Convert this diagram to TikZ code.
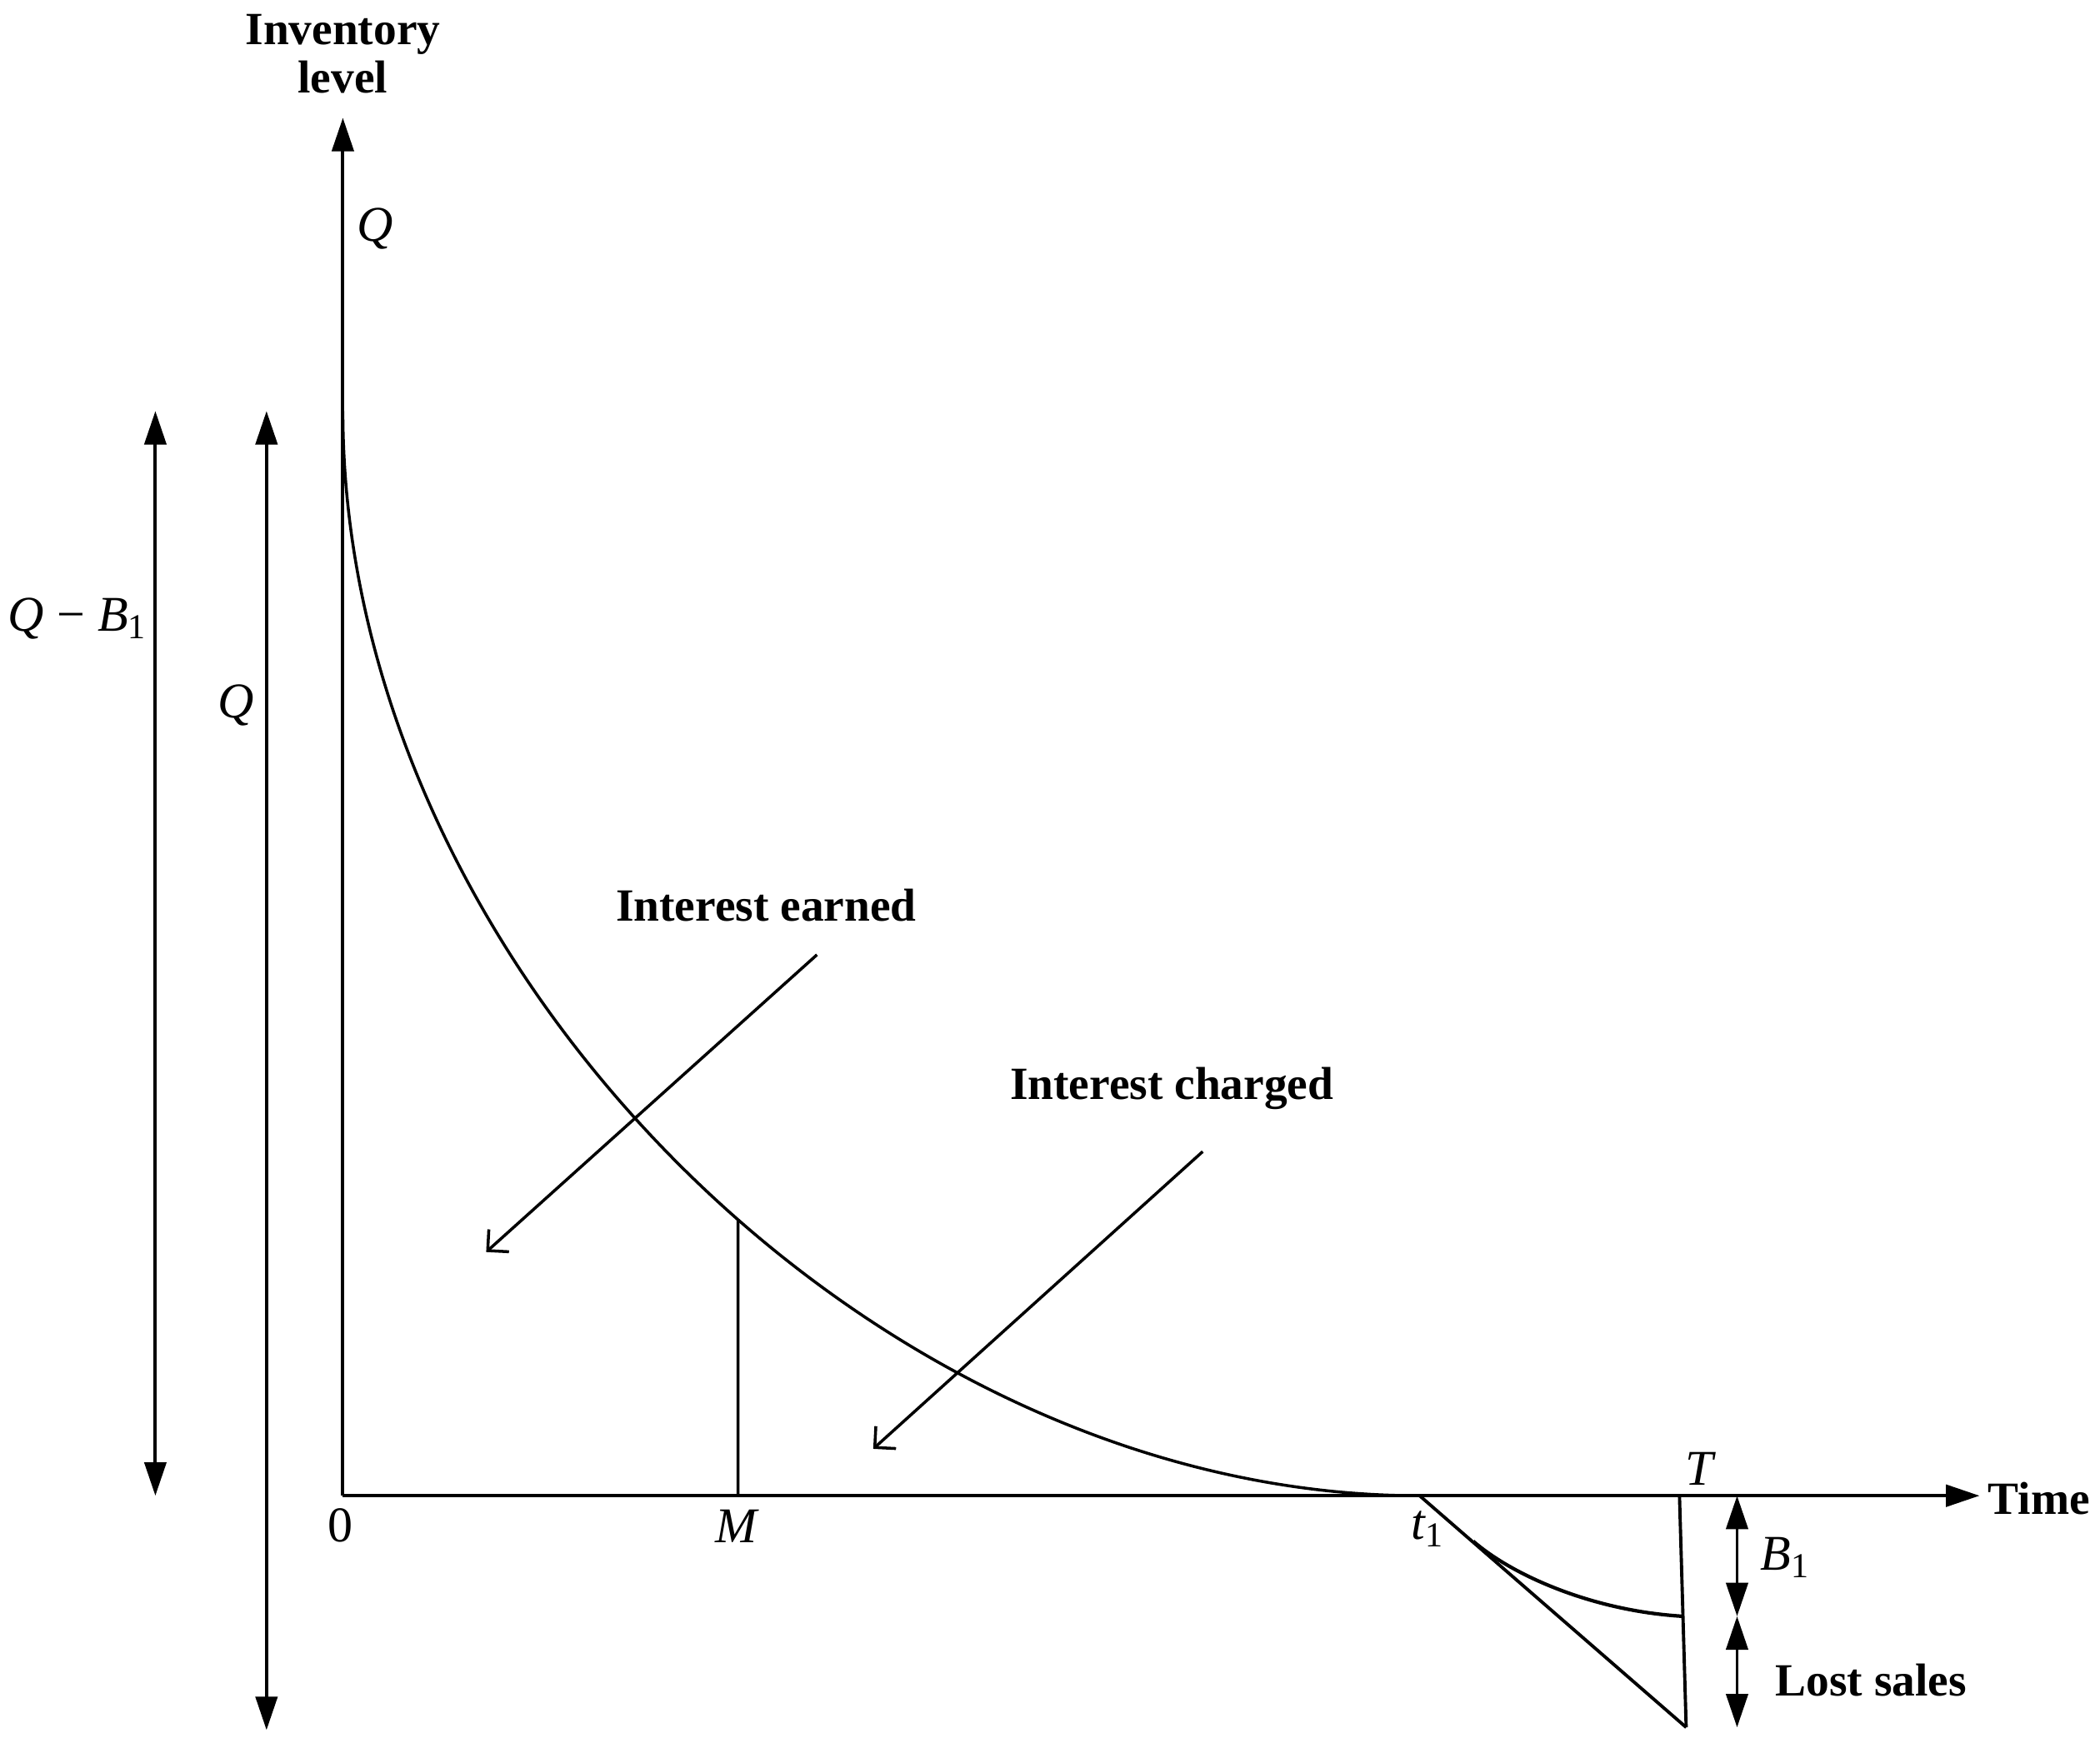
\documentclass[tikz,border=0pt]{standalone}
\usepackage{fontspec}
\setmainfont{Liberation Serif}
\usetikzlibrary{arrows.meta,intersections}
\begin{document}
\begin{tikzpicture}[x=0.016cm,y=-0.016cm,
  ln/.style={line width=1.1pt},
  tri/.style={-{Triangle[length=0.4cm,width=0.26cm]}},
  dbl/.style={{Triangle[length=0.4cm,width=0.26cm]}-{Triangle[length=0.4cm,width=0.26cm]}},
  barb/.style={-{Straight Barb[length=1.8mm,width=3.6mm]}},
  lbl/.style={font=\fontsize{15.7}{16.5}\selectfont\bfseries, inner sep=0pt},
  mth/.style={font=\fontsize{17}{20}\selectfont\itshape, inner sep=0pt},
  num/.style={font=\fontsize{17}{20}\selectfont, inner sep=0pt}]
\useasboundingbox (0,0) rectangle (1568,1309);
% axes
\coordinate (O) at (256,1117);
\coordinate (ytop) at (256,88);
\coordinate (xend) at (1478,1117);
\draw[ln,tri] (O) -- (ytop);
\draw[ln,tri] (O) -- (xend);
\node[lbl, align=center] (inv) at (256,40) {Inventory\\level};
\node[lbl, anchor=west] (time) at (1484,1119) {Time};
% main curve
\coordinate (qtop) at (256,307);
\coordinate (t1) at (1060,1117);
\draw[line width=1pt, name path=curve] (qtop) .. controls (256,720) and (650,1117) .. (t1);
% M line
\coordinate (Mb) at (551,1117);
\path[name path=vm] (551,800) -- (Mb);
\path[name intersections={of=curve and vm, by=Mt}];
\draw[line width=1pt] (Mb) -- (Mt);
% interest arrows
\coordinate (e1) at (610,713);
\coordinate (e2) at (363,935);
\draw[line width=1pt,barb] (e1) -- (e2);
\coordinate (c1) at (898,860);
\coordinate (c2) at (652,1082);
\draw[line width=1pt,barb] (c1) -- (c2);
\node[lbl] (ie) at (572,676) {Interest earned};
\node[lbl] (ic) at (875,813) {Interest charged};
% labels on axes
\node[mth] (Qt) at (280,171) {Q};
\node[num] (zero) at (254,1139) {0};
\node[mth] (Ml) at (550,1140) {M};
\node[mth] (t1l) at (1066,1142) {t\textsubscript{\textup{1}}};
\node[mth] (Tl) at (1269,1097) {T};
% negative region
\coordinate (bot) at (1259,1290);
\coordinate (Ttop) at (1254,1117);
\coordinate (bs) at (1100,1151);
\coordinate (Bend) at (1256,1207);
\draw[ln] (t1) -- (bot);
\draw[ln] (Ttop) -- (bot);
\draw[line width=1.2pt] (bs) .. controls (1130,1177) and (1190,1203) .. (Bend);
% right double arrows
\coordinate (r0) at (1297,1117);
\coordinate (r1) at (1297,1207);
\coordinate (r2) at (1297,1290);
\draw[ln,dbl] (r0) -- (r1);
\draw[ln,dbl] (r1) -- (r2);
\node[mth] (Bl) at (1333,1163) {B\textsubscript{\textup{1}}};
\node[lbl] (lost) at (1397,1255) {Lost sales};
% left double arrows
\coordinate (a0) at (116,307);
\coordinate (a1) at (116,1117);
\coordinate (b0) at (199,307);
\coordinate (b1) at (199,1292);
\draw[ln,dbl] (a0) -- (a1);
\draw[ln,dbl] (b0) -- (b1);
\node[mth] (QB) at (58,462) {Q \textup{−} B\textsubscript{\textup{1}}};
\node[mth] (Ql) at (176,527) {Q};
\end{tikzpicture}
\end{document}
